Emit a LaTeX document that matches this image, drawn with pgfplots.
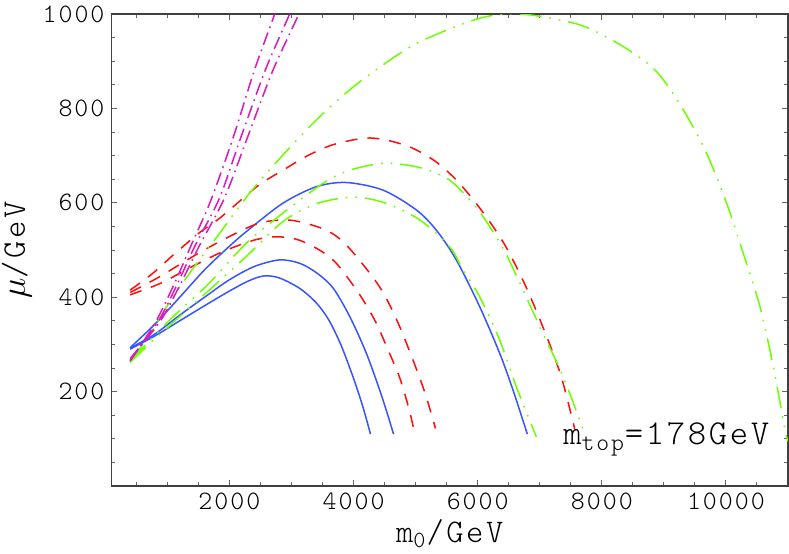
\documentclass[border=0pt]{standalone}
\usepackage{fontspec}
\newfontfamily\cour{lmmonolt10-regular}[Extension=.otf, LetterSpace=7.5]
\usepackage{pgfplots}
\pgfplotsset{compat=1.18}
\definecolor{cblue}{rgb}{0.22,0.33,1}
\definecolor{cred}{rgb}{1,0.05,0.05}
\definecolor{cgreen}{rgb}{0.42,1,0}
\definecolor{cmag}{rgb}{0.85,0.1,0.75}
\begin{document}
\begin{tikzpicture}
\begin{axis}[
  at={(0,0)}, anchor=south west,
  scale only axis, width=338.25pt, height=236pt,
  xmin=100, xmax=11000, ymin=0, ymax=1000,
  xtick={2000,4000,6000,8000,10000},
  ytick={200,400,600,800,1000},
  scaled x ticks=false, scaled y ticks=false,
  minor xtick={500,1000,1500,2500,3000,3500,4500,5000,5500,6500,7000,7500,8500,9000,9500,10500},
  minor ytick={50,100,150,250,300,350,450,500,550,650,700,750,850,900,950},
  tick align=inside, tick pos=both,
  major tick length=3pt, minor tick length=1.8pt,
  every tick/.style={black!60, line width=0.5pt},
  axis line style={black!75, line width=0.6pt},
  tick label style={font=\cour\fontsize{13.3}{15}\selectfont},
  /pgf/number format/assume math mode=true,
  /pgf/number format/set thousands separator={},
  xlabel={m\textsubscript{0}/GeV},
  ylabel={$\mu$/GeV},
  xlabel style={font=\cour\fontsize{16.5}{19}\selectfont, at={(axis description cs:0.5,-0.12)}, anchor=base},
  ylabel style={font=\cour\fontsize{16.5}{19}\selectfont, at={(axis description cs:-0.128,0.5)}, anchor=base},
  clip=true,
  every axis plot/.append style={line width=0.75pt, smooth},
]
% blue solid
\addplot[cblue] coordinates {(400,290) (800,318) (1200,350) (1600,382) (2000,413) (2300,434) (2550,445) (2800,441) (3129,419) (3400,388) (3600,352) (3800,298) (4000,228) (4150,168) (4273,110)};
\addplot[cblue] coordinates {(400,292) (800,322) (1200,362) (1600,400) (2000,437) (2400,465) (2806,479) (3129,472) (3400,452) (3667,420) (3935,360) (4204,282) (4450,192) (4645,110)};
\addplot[cblue] coordinates {(400,293) (800,343) (1200,400) (1600,458) (2000,508) (2300,542) (2860,599) (3398,634) (3882,643) (4473,627) (5011,585) (5334,542) (5656,479) (6032,380) (6355,281) (6570,203) (6800,110)};
% red dashed
\addplot[cred, dash pattern=on 6pt off 5pt] coordinates {(400,405) (900,430) (1400,465) (1900,497) (2400,521) (2750,528) (3100,522) (3450,500) (3700,475) (3935,436) (4150,395) (4366,345) (4550,290) (4742,230) (4900,160) (4995,105)};
\addplot[cred, dash pattern=on 6pt off 5pt] coordinates {(400,410) (871,443) (1408,486) (1946,525) (2484,557) (2995,563) (3559,542) (3909,507) (4419,422) (4742,338) (5118,210) (5320,122)};
\addplot[cred, dash pattern=on 6pt off 5pt] coordinates {(400,415) (760,450) (1100,490) (1500,535) (1839,567) (2188,606) (2500,640) (2887,671) (3263,700) (3667,723) (4177,737) (4527,733) (4930,717) (5306,689) (5629,652) (5914,609) (6183,562) (6463,505) (6785,420) (7108,318) (7350,230) (7565,120)};
% green dash-dot-dot
\addplot[cgreen, dash pattern=on 11pt off 4pt on 0.8pt off 4pt on 0.8pt off 4pt] coordinates {(400,262) (800,312) (1463,390) (2269,486) (2860,560) (3400,598) (3989,612) (4500,600) (5065,564) (5548,507) (5763,458) (6032,401) (6355,309) (6624,210) (6946,104)};
\addplot[cgreen, dash pattern=on 11pt off 4pt on 0.8pt off 4pt on 0.8pt off 4pt] coordinates {(400,264) (800,320) (1200,372) (1677,430) (2269,514) (2860,578) (3505,641) (3935,669) (4527,684) (5118,673) (5548,648) (5871,606) (6086,571) (6463,490) (7000,338) (7376,232) (7726,110)};
\addplot[cgreen, dash pattern=on 11pt off 4pt on 0.8pt off 4pt on 0.8pt off 4pt] coordinates {(400,262) (760,330) (1090,401) (1516,479) (1840,535) (2323,620) (2860,701) (3398,775) (3935,839) (4473,892) (5065,941) (6032,991) (6700,1000) (7645,977) (8344,931) (8882,878) (9312,797) (9688,705) (10011,599) (10279,493) (10548,380) (10763,253) (10952,119) (11000,95)};
% magenta dash-dot
\addplot[cmag, dash pattern=on 6.5pt off 2.5pt on 0.8pt off 2.5pt] coordinates {(400,265) (800,345) (1100,425) (1400,515) (1700,605) (2065,740) (2400,880) (2730,1000) (2860,1050)};
\addplot[cmag, dash pattern=on 6.5pt off 2.5pt on 0.8pt off 2.5pt] coordinates {(400,267) (850,348) (1150,425) (1450,510) (1840,610) (2188,740) (2590,885) (2970,1000) (3110,1050)};
\addplot[cmag, dash pattern=on 6.5pt off 2.5pt on 0.8pt off 2.5pt] coordinates {(400,270) (880,348) (1200,425) (1520,510) (1920,610) (2295,740) (2699,880) (3118,1000) (3260,1050)};
\node[anchor=base, font=\cour\fontsize{17.5}{20}\selectfont] at (axis cs:9040,87) {m\textsubscript{top}=178GeV};
\end{axis}
\pgfresetboundingbox
\path[use as bounding box] (-55.75pt,-33.5pt) rectangle (338.75pt,243pt);
\end{tikzpicture}
\end{document}
